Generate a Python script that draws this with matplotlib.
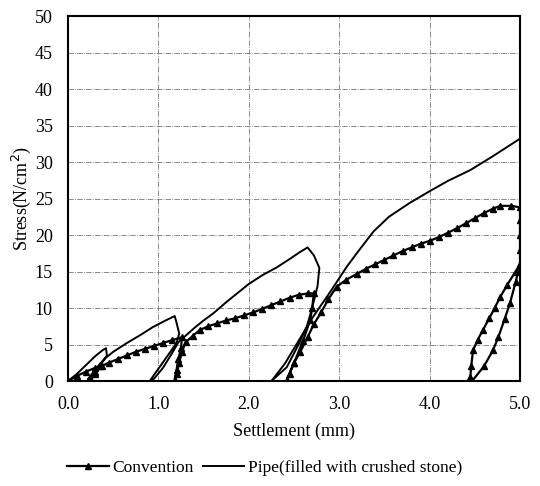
import matplotlib
matplotlib.use("Agg")
import matplotlib.pyplot as plt

# Convention (with triangle markers)
conv_x = [0, 0.1, 0.2, 0.3, 0.35, 0.3, 0.25, 0.3, 0.38, 0.45, 0.55, 0.65, 0.75, 0.85, 0.95, 1.05, 1.15, 1.26,
          1.25, 1.22, 1.2, 1.18, 1.2, 1.23, 1.26, 1.3, 1.38, 1.46, 1.55, 1.65, 1.75, 1.85, 1.95, 2.05, 2.15, 2.25,
          2.35, 2.45, 2.55, 2.65, 2.72,
          2.7, 2.68, 2.6, 2.5, 2.42,
          2.45, 2.5, 2.57, 2.65, 2.72, 2.8, 2.88, 2.97, 3.08, 3.2, 3.3, 3.4, 3.5, 3.6, 3.7, 3.8, 3.9, 4.0, 4.1,
          4.2, 4.3, 4.4, 4.5, 4.6, 4.7, 4.78, 4.9, 5.0,
          5.0, 5.0, 5.0, 5.0, 4.95, 4.89, 4.83, 4.76, 4.7, 4.6, 4.47,
          4.45, 4.46, 4.48, 4.53, 4.59, 4.66, 4.72, 4.78, 4.86, 4.95, 5.0]
conv_y = [0, 0.7, 1.3, 1.8, 2.0, 1.0, 0.2, 1.2, 2.1, 2.5, 3.0, 3.5, 4.0, 4.4, 4.8, 5.2, 5.6, 6.0,
          4.5, 3.0, 1.5, 0.2, 1.0, 2.5, 4.0, 5.3, 6.2, 7.0, 7.5, 7.9, 8.3, 8.6, 9.0, 9.4, 9.9, 10.4,
          10.9, 11.4, 11.8, 12.0, 12.0,
          10.0, 8.4, 5.5, 2.5, 0.2,
          1.0, 2.5, 4.0, 6.0, 7.8, 9.4, 11.2, 12.9, 13.9, 14.7, 15.4, 16.0, 16.6, 17.2, 17.8, 18.3, 18.8, 19.2, 19.7,
          20.3, 20.9, 21.6, 22.3, 23.0, 23.6, 24.0, 24.0, 23.8,
          22.0, 20.0, 18.0, 16.0, 13.5, 10.7, 8.5, 6.0, 4.2, 2.0, 0.0,
          0.5, 2.0, 4.2, 5.6, 7.0, 8.6, 10.0, 11.5, 13.2, 15.0, 16.0]

# Pipe (filled with crushed stone)
pipe_x = [0, 0.1, 0.2, 0.3, 0.38, 0.42, 0.43, 0.35, 0.28, 0.22,
          0.3, 0.4, 0.5, 0.65, 0.8, 0.94, 1.08, 1.18,
          1.2, 1.23, 1.2, 1.12, 1.03, 0.96, 0.91,
          0.95, 1.05, 1.15, 1.22, 1.3, 1.4, 1.5, 1.61, 1.75, 1.9, 2.0, 2.15, 2.3, 2.45, 2.57, 2.65,
          2.72, 2.78, 2.76, 2.7, 2.64, 2.55, 2.42, 2.25,
          2.4, 2.55, 2.7, 2.9, 3.08, 3.2, 3.38, 3.55, 3.78, 4.0, 4.2, 4.45, 4.7, 5.0]
pipe_y = [0, 1.0, 2.2, 3.4, 4.2, 4.5, 3.5, 2.0, 1.0, 0.2,
          1.6, 3.0, 4.0, 5.2, 6.3, 7.4, 8.3, 8.9,
          8.0, 6.5, 5.2, 3.8, 2.2, 1.0, 0.1,
          0.3, 1.8, 3.8, 5.3, 6.2, 7.3, 8.3, 9.3, 10.8, 12.3, 13.3, 14.5, 15.5, 16.7, 17.7, 18.3,
          17.2, 15.5, 13.0, 10.0, 7.4, 5.0, 1.9, 0.0,
          2.4, 5.5, 8.6, 12.2, 15.6, 17.6, 20.5, 22.5, 24.4, 26.0, 27.4, 28.9, 30.8, 33.2]

x_ticks = [0, 1, 2, 3, 4, 5]
x_labels = ["0.0", "1.0", "2.0", "3.0", "4.0", "5.0"]
y_ticks = [0, 5, 10, 15, 20, 25, 30, 35, 40, 45, 50]

plt.rcParams['font.family'] = ['Liberation Serif', 'DejaVu Serif']

fig = plt.figure(figsize=(5.4, 4.86), dpi=100)
ax = fig.add_axes([0.126, 0.216, 0.837, 0.751])

ax.plot(conv_x, conv_y, color='black', lw=1.6, marker='^', markersize=4,
        label='Convention', zorder=3)
ax.plot(pipe_x, pipe_y, color='black', lw=1.4, label='Pipe(filled with crushed stone)', zorder=3)

ax.set_xlim(0, 5)
ax.set_ylim(0, 50)
ax.set_xticks(x_ticks)
ax.set_xticklabels(x_labels)
ax.set_yticks(y_ticks)
ax.tick_params(length=0, labelsize=13)
ax.tick_params(axis='x', pad=11)
ax.tick_params(axis='y', pad=11)
ax.grid(True, color='#777777', linestyle='-.', linewidth=0.6)
for s in ax.spines.values():
    s.set_linewidth(1.5)
    s.set_color('black')

ax.set_xlabel('Settlement (mm)', fontsize=13, labelpad=7)
ax.set_ylabel('Stress(N/cm$^2$)', fontsize=13, labelpad=1)

fig.legend(loc='lower center', bbox_to_anchor=(0.49, -0.012), ncol=2, frameon=False,
           fontsize=12.5, handlelength=2.4, columnspacing=0.5, handletextpad=0.2)

fig.savefig('out.png', dpi=100)
